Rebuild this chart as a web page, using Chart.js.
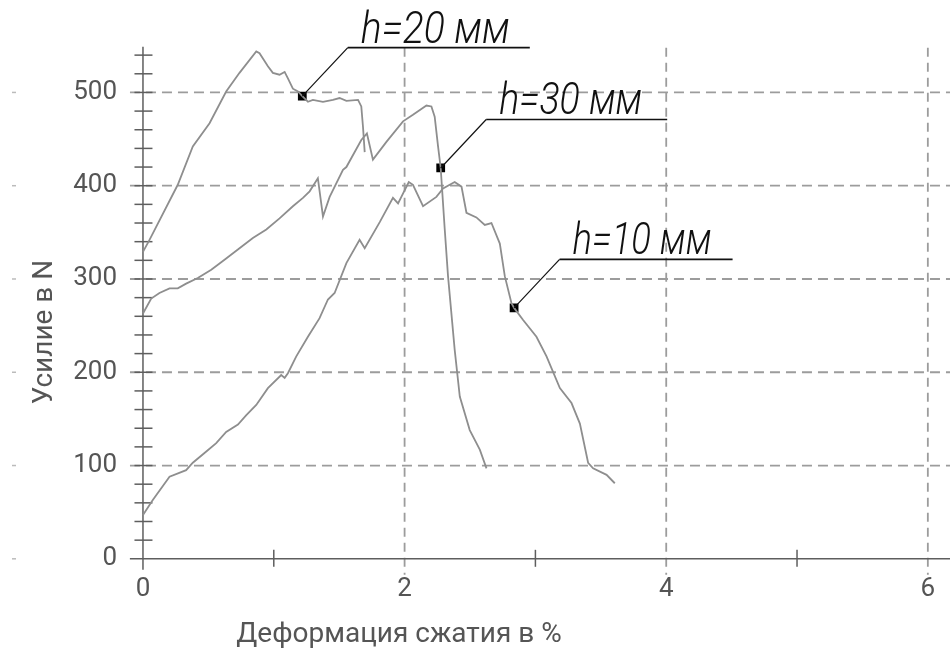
<!DOCTYPE html>
<html>
<head>
<meta charset="utf-8">
<script src="https://cdn.jsdelivr.net/npm/chart.js@4.4.1/dist/chart.umd.min.js"></script>
<style>
  html, body { margin: 0; padding: 0; background: #ffffff; }
  #c { display: block; }
</style>
</head>
<body>
<canvas id="c" width="950" height="654"></canvas>
<script>
// ---------------- DATA ----------------
const xTickValues = [0, 2, 4, 6];
const yTickValues = [0, 100, 200, 300, 400, 500];
const xGridValues = [2, 4, 6];
const yGridValues = [100, 200, 300, 400, 500];
const xMinorTicks = [1, 3, 5];

const xAxisTitle = 'Деформация сжатия в %';
const yAxisTitle = 'Усилие в N';

// h = 20 mm (upper curve)
const h20X = [0, 0.05, 0.266, 0.381, 0.509, 0.636, 0.738, 0.866, 0.891, 0.955, 0.993, 1.044, 1.083, 1.108, 1.146, 1.185, 1.218, 1.261, 1.299, 1.376, 1.452, 1.503, 1.555, 1.644, 1.669, 1.682, 1.695];
const h20Y = [329, 342, 401, 442, 467, 501, 521, 544, 542, 528, 521, 519, 522, 515, 504, 501, 496, 490, 492, 490, 492, 494, 491, 492, 485, 463, 436];

// h = 30 mm (middle curve)
const h30X = [0, 0.063, 0.126, 0.203, 0.266, 0.33, 0.419, 0.522, 0.636, 0.738, 0.84, 0.943, 1.044, 1.146, 1.223, 1.274, 1.337, 1.376, 1.427, 1.529, 1.555, 1.669, 1.712, 1.758, 1.861, 1.988, 2.064, 2.167, 2.205, 2.23, 2.256, 2.276, 2.307, 2.332, 2.383, 2.422, 2.498, 2.575, 2.626];
const h30Y = [263, 279, 285, 290, 290, 295, 301, 310, 322, 333, 344, 353, 365, 378, 387, 394, 408, 367, 388, 417, 420, 449, 456, 428, 447, 469, 476, 486, 485, 474, 442, 419, 353, 303, 224, 174, 138, 117, 97];

// h = 10 mm (lower curve)
const h10X = [0, 0.075, 0.203, 0.33, 0.381, 0.484, 0.56, 0.636, 0.726, 0.79, 0.866, 0.955, 1.057, 1.083, 1.108, 1.172, 1.261, 1.35, 1.414, 1.465, 1.555, 1.656, 1.695, 1.81, 1.911, 1.95, 2.032, 2.064, 2.141, 2.243, 2.294, 2.383, 2.435, 2.473, 2.549, 2.613, 2.664, 2.728, 2.766, 2.817, 2.837, 2.906, 3.008, 3.085, 3.187, 3.276, 3.34, 3.403, 3.441, 3.544, 3.607];
const h10Y = [47, 63, 88, 95, 103, 115, 124, 136, 144, 154, 165, 183, 197, 194, 199, 217, 238, 258, 278, 285, 317, 342, 333, 361, 387, 381, 404, 401, 378, 388, 397, 404, 399, 371, 366, 358, 360, 338, 303, 274, 269, 256, 238, 217, 183, 167, 145, 103, 97, 90, 81];

// callout markers
const markerX = [1.218, 2.276, 2.837];
const markerY = [496, 419, 269];
const markerLabels = ['h=20 мм', 'h=30 мм', 'h=10 мм'];

// ---------------- STYLE ----------------
const STYLE = {
  curve: '#8e8e8e',
  grid: '#9c9c9c',
  axis: '#5e5e5e',
  label: '#555555',
  font: 'Roboto, "Liberation Sans", Arial, sans-serif',
  leaderDx: 45.5, leaderDy: -48.5,
  underline: [182, 181, 173],
  textWidth: [149, 143, 139]
};

const zip = (xs, ys) => xs.map((v, i) => ({ x: v, y: ys[i] }));

const decorPlugin = {
  id: 'decor',
  beforeDatasetsDraw(chart) {
    const { ctx, scales: { x, y } } = chart;
    const W = chart.width;
    const x0 = x.getPixelForValue(0), y0 = y.getPixelForValue(0);
    const seg = (a, b, c, d) => { ctx.beginPath(); ctx.moveTo(a, b); ctx.lineTo(c, d); ctx.stroke(); };
    ctx.save();
    // dashed grid
    ctx.strokeStyle = STYLE.grid; ctx.lineWidth = 1.8; ctx.setLineDash([10, 6]);
    yGridValues.forEach(v => { const py = y.getPixelForValue(v); seg(x0 - 13, py, W, py); });
    ctx.setLineDash([9, 6]);
    xGridValues.forEach(v => { const px = x.getPixelForValue(v); seg(px, y.getPixelForValue(548), px, y0 + 16); });
    ctx.setLineDash([]);
    // axes
    ctx.strokeStyle = STYLE.axis; ctx.lineWidth = 1.5;
    seg(x0, y.getPixelForValue(549), x0, y0 + 11);
    seg(x.getPixelForValue(-0.1), y0, W, y0);
    // y minor ticks
    for (let v = 20; v <= 540; v += 20) { const py = y.getPixelForValue(v); seg(x0 - 8.5, py, x0 + 9.5, py); }
    // x minor ticks
    xMinorTicks.forEach(v => { const px = x.getPixelForValue(v); seg(px, y0 - 9, px, y0 + 8); });
    // faint marks at left edge
    ctx.strokeStyle = '#bbbbbb'; ctx.lineWidth = 1.5;
    yTickValues.forEach(v => { const py = y.getPixelForValue(v); seg(12, py, 16, py); });
    ctx.restore();
  },
  afterDatasetsDraw(chart) {
    const { ctx, scales: { x, y } } = chart;
    ctx.save();
    markerLabels.forEach((lab, i) => {
      const mx = x.getPixelForValue(markerX[i]), my = y.getPixelForValue(markerY[i]);
      const ex = mx + STYLE.leaderDx, ey = my + STYLE.leaderDy;
      ctx.strokeStyle = '#111'; ctx.lineWidth = 1.2;
      ctx.beginPath(); ctx.moveTo(mx, my); ctx.lineTo(ex, ey); ctx.stroke();
      ctx.lineWidth = 1.6;
      ctx.beginPath(); ctx.moveTo(ex, ey); ctx.lineTo(ex + STYLE.underline[i], ey); ctx.stroke();
      ctx.font = 'italic 300 44px ' + STYLE.font;
      ctx.fillStyle = '#111';
      ctx.textAlign = 'left'; ctx.textBaseline = 'alphabetic';
      const w = ctx.measureText(lab).width;
      const sx = STYLE.textWidth[i] / w;
      ctx.save();
      ctx.translate(ex + 13, ey - 5);
      ctx.scale(sx, 1);
      ctx.fillText(lab, 0, 0);
      ctx.restore();
    });
    // axis titles
    ctx.fillStyle = STYLE.label;
    ctx.font = '28px ' + STYLE.font;
    ctx.textAlign = 'center'; ctx.textBaseline = 'alphabetic';
    ctx.fillText(xAxisTitle, 399, 642);
    ctx.save();
    ctx.translate(52, 332);
    ctx.rotate(-Math.PI / 2);
    ctx.fillText(yAxisTitle, 0, 0);
    ctx.restore();
    ctx.restore();
  }
};

const curveStyle = { showLine: true, borderColor: STYLE.curve, borderWidth: 1.8, pointRadius: 0, tension: 0, fill: false };

new Chart(document.getElementById('c'), {
  type: 'scatter',
  data: {
    datasets: [
      Object.assign({ label: markerLabels[0], data: zip(h20X, h20Y) }, curveStyle),
      Object.assign({ label: markerLabels[1], data: zip(h30X, h30Y) }, curveStyle),
      Object.assign({ label: markerLabels[2], data: zip(h10X, h10Y) }, curveStyle),
      { label: 'markers', data: zip(markerX, markerY), showLine: false, pointStyle: 'rect', pointRadius: 6.2, borderWidth: 0, backgroundColor: '#000', borderColor: '#000' }
    ]
  },
  options: {
    responsive: false,
    animation: false,
    events: [],
    layout: { padding: { top: 43, right: 0, bottom: 0, left: 0 } },
    plugins: { legend: { display: false }, tooltip: { enabled: false } },
    scales: {
      x: {
        type: 'linear', min: -0.1756, max: 6.122,
        afterBuildTicks: s => { s.ticks = xTickValues.map(v => ({ value: v })); },
        afterFit: s => { s.height = 84; s.paddingLeft = 0; s.paddingRight = 0; },
        grid: { display: false, drawTicks: false },
        border: { display: false },
        ticks: { font: { family: STYLE.font, size: 26 }, color: STYLE.label, padding: 4, maxRotation: 0, autoSkip: false, callback: v => String(v) }
      },
      y: {
        type: 'linear', min: -12, max: 553,
        afterBuildTicks: s => { s.ticks = yTickValues.map(v => ({ value: v })); },
        afterFit: s => { s.width = 120; s.paddingTop = 0; s.paddingBottom = 0; },
        grid: { display: false, drawTicks: false },
        border: { display: false },
        ticks: { font: { family: STYLE.font, size: 26 }, color: STYLE.label, padding: 3, autoSkip: false, callback: v => String(v) }
      }
    }
  },
  plugins: [decorPlugin]
});
</script>
</body>
</html>
